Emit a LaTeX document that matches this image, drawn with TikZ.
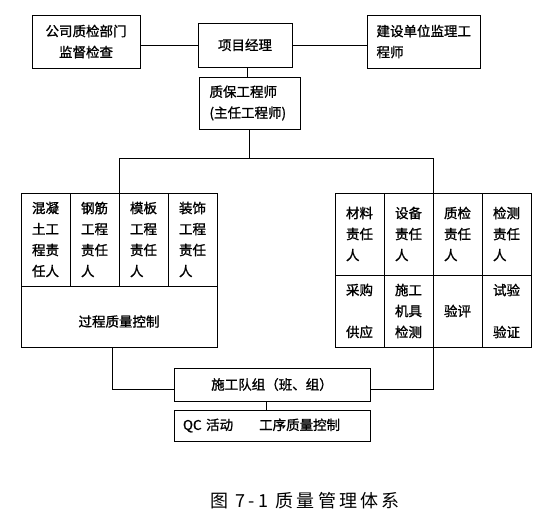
\documentclass[tikz,border=0pt]{standalone}
\usepackage{fontspec}
\setmainfont{Noto Sans CJK SC}[FakeBold=1.2]
\newfontfamily\capfont{Noto Sans CJK SC}[LetterSpace=18]
\begin{document}
\begin{tikzpicture}[x=1pt,y=-1pt,
  box/.style={draw, line width=0.8pt, inner sep=0pt, font=\fontsize{13.5}{21}\selectfont},
  lcol/.style={box, minimum width=49, minimum height=93, text width=27, align=left},
  rtop/.style={box, minimum width=49, minimum height=82, text width=27, align=left},
  rbot/.style={box, minimum width=49, minimum height=72, text width=27, align=left},
  link/.style={line width=0.8pt}]
\useasboundingbox (0,0) rectangle (548,524);
\node[box, minimum width=108, minimum height=53, align=center] (gs) at (86,41.5) {公司质检部门\\监督检查};
\node[box, minimum width=94, minimum height=44] (pm) at (245,45) {项目经理};
\node[box, minimum width=113, minimum height=53, text width=94, align=left] (js) at (423.5,41.5) {建设单位监理工\\程师};
\node[box, minimum width=101, minimum height=52, text width=80, align=left] (zb) at (249.5,103) {质保工程师\\(主任工程师)};
% left group
\node[lcol] (lc1) at (45.5,239.5) {混凝\\土工\\程责\\任人};
\node[lcol] (lc2) at (94.5,239.5) {钢筋\\工程\\责任\\人};
\node[lcol] (lc3) at (143.5,239.5) {模板\\工程\\责任\\人};
\node[lcol] (lc4) at (192.5,239.5) {装饰\\工程\\责任\\人};
\node[box, minimum width=196, minimum height=61, label={[font=\fontsize{13.5}{21}\selectfont, yshift=-5pt]center:过程质量控制}] (lbot) at (119,316.5) {};
% right group
\node[rtop] (rc1) at (359.5,234) {材料\\责任\\人};
\node[rtop] (rc2) at (408.5,234) {设备\\责任\\人};
\node[rtop] (rc3) at (457.5,234) {质检\\责任\\人};
\node[rtop] (rc4) at (506.5,234) {检测\\责任\\人};
\node[rbot] (rb1) at (359.5,311) {采购\\~\\供应};
\node[rbot] (rb2) at (408.5,311) {施工\\机具\\检测};
\node[rbot] (rb3) at (457.5,311) {验评};
\node[rbot] (rb4) at (506.5,311) {试验\\~\\验证};
% bottom
\node[box, minimum width=196, minimum height=33] (team) at (272,384.5) {施工队组（班、组）};
\node[box, minimum width=196, minimum height=31, text width=178, align=left] (qcb) at (272,425.5) {QC 活动\hspace{26pt}工序质量控制};
\node[font=\fontsize{18}{20}\capfont] (cap) at (305,501) {图 7-1 质量管理体系};
% connectors
\draw[link] (pm.west) -- (pm.west -| gs.east);
\draw[link] (pm.east) -- (pm.east -| js.west);
\draw[link] ([xshift=2pt]pm.south) -- ([xshift=2pt]pm.south |- zb.north);
\path (zb.south) ++(0,29) coordinate (split);
\draw[link] (zb.south) -- (split);
\draw[link] (lc2.north east) |- (split) -| (rc2.north east);
\coordinate (lb) at (112,347);
\draw[link] (lb) |- ([yshift=-4.5pt]team.west);
\draw[link] (rb2.south east) |- ([yshift=-4.5pt]team.east);
\draw[link] ([xshift=-6pt]team.south) -- ([xshift=-6pt]qcb.north);
\end{tikzpicture}
\end{document}
